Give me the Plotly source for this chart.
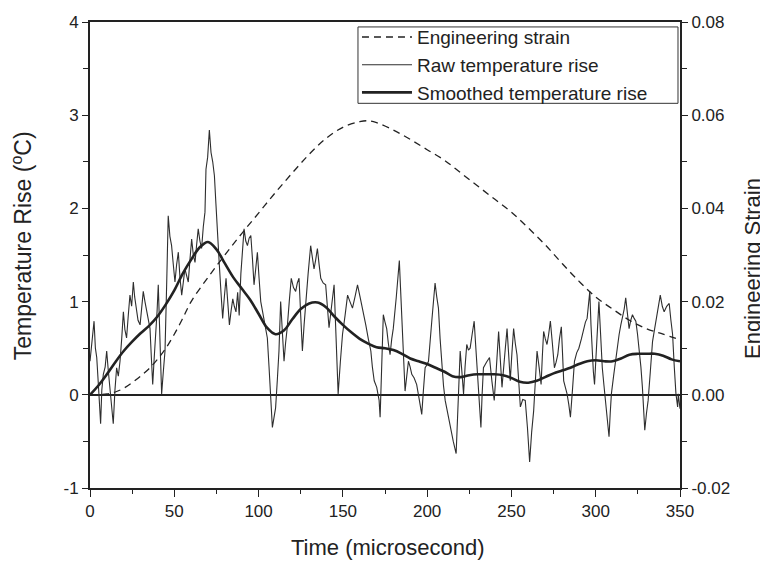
import plotly.graph_objects as go

# ---- Engineering strain (dashed, right axis) ----
strain_t = [0, 10, 15, 20, 25, 30, 35, 40, 45, 50, 55, 60, 70, 80, 90, 100, 110, 120, 130,
            140, 150, 160, 165, 170, 180, 190, 200, 210, 220, 230, 240, 250, 260, 270, 280,
            290, 300, 310, 320, 330, 340, 350]
strain_v = [0.0, 0.0002, 0.0006, 0.0014, 0.0026, 0.0040, 0.0056, 0.0076, 0.0100, 0.0130,
            0.0164, 0.0200, 0.0252, 0.0300, 0.0346, 0.0390, 0.0434, 0.0476, 0.0516, 0.0550,
            0.0574, 0.0586, 0.0588, 0.0584, 0.0568, 0.0548, 0.0526, 0.0504, 0.0476, 0.0448,
            0.0420, 0.0392, 0.0358, 0.0322, 0.0282, 0.0244, 0.0210, 0.0184, 0.0160, 0.0142,
            0.0130, 0.0118]

# ---- Smoothed temperature rise ----
smooth_t = [0, 5, 10, 15, 20, 25, 30, 35, 40, 45, 50, 55, 60, 65, 70, 75, 80, 85, 90, 95,
            100, 105, 110, 115, 120, 125, 130, 135, 140, 145, 150, 155, 160, 165, 170, 175,
            180, 185, 190, 195, 200, 205, 210, 215, 220, 225, 230, 235, 240, 245, 250, 255,
            260, 265, 270, 275, 280, 285, 290, 295, 300, 305, 310, 315, 320, 325, 330, 335,
            340, 345, 350]
smooth_v = [0.0, 0.10, 0.22, 0.35, 0.47, 0.57, 0.66, 0.74, 0.84, 0.97, 1.12, 1.30, 1.45,
            1.58, 1.64, 1.56, 1.41, 1.26, 1.14, 1.02, 0.87, 0.72, 0.65, 0.69, 0.81, 0.92,
            0.98, 0.99, 0.94, 0.84, 0.75, 0.67, 0.60, 0.55, 0.51, 0.50, 0.48, 0.44, 0.39,
            0.36, 0.33, 0.29, 0.25, 0.20, 0.19, 0.21, 0.22, 0.22, 0.22, 0.21, 0.18, 0.14,
            0.13, 0.15, 0.19, 0.23, 0.26, 0.29, 0.33, 0.36, 0.37, 0.36, 0.36, 0.39, 0.43,
            0.44, 0.44, 0.44, 0.42, 0.38, 0.36]

# ---- Raw temperature rise ----
raw_t = [0.0, 1.2, 2.4, 3.2, 4.0, 5.0, 6.3, 7.0, 7.9, 9.0, 9.9, 10.9, 11.9, 12.8, 13.8,
         14.8, 15.8, 16.8, 17.8, 18.8, 19.8, 20.7, 21.7, 22.7, 23.7, 24.7, 25.7, 26.5, 27.3,
         28.5, 29.7, 30.6, 31.6, 32.6, 33.6, 34.6, 35.6, 36.4, 37.2, 38.1, 39.1, 39.8, 40.5,
         41.5, 42.5, 43.5, 44.5, 45.5, 46.4, 47.4, 48.4, 49.4, 50.4, 51.4, 52.4, 53.4, 54.4,
         55.3, 56.3, 57.3, 58.3, 59.3, 60.3, 61.3, 62.3, 63.2, 64.2, 65.2, 66.2, 67.2, 68.2,
         68.8, 69.8, 70.8, 71.8, 72.8, 73.8, 74.7, 75.7, 76.7, 77.7, 78.7, 79.7, 80.7, 81.7,
         82.7, 83.7, 84.7, 85.6, 86.6, 87.6, 88.5, 89.5, 90.5, 91.4, 92.4, 93.4, 94.4, 95.4,
         96.4, 97.3, 98.3, 99.3, 100.3, 101.3, 102.3, 103.3, 104.2, 105.2, 106.2, 107.2,
         108.2, 109.1, 110.1, 111.1, 112.1, 113.1, 114.1, 115.1, 116.0, 117.0, 118.2, 119.4,
         120.7, 122.0, 123.0, 124.0, 125.0, 126.0, 127.0, 127.9, 129.4, 130.9, 131.9, 132.9,
         133.9, 134.9, 135.9, 136.9, 138.3, 139.8, 140.8, 141.8, 143.3, 144.8, 146.0, 147.2,
         148.5, 149.8, 151.3, 152.8, 154.2, 155.7, 157.2, 158.7, 160.2, 161.7, 162.6, 163.6,
         165.1, 166.1, 166.6, 167.5, 168.6, 170.1, 171.5, 172.1, 173.0, 174.0, 175.0, 176.0,
         177.0, 178.0, 179.0, 179.9, 181.7, 183.5, 184.2, 184.9, 185.9, 186.9, 187.9, 188.9,
         189.9, 190.9, 192.3, 193.8, 195.3, 196.8, 197.8, 198.8, 199.8, 200.8, 202.8, 204.7,
         205.7, 206.7, 207.7, 208.7, 209.7, 210.7, 212.2, 213.7, 215.5, 217.2, 218.4, 219.6,
         220.6, 221.6, 222.5, 223.5, 224.5, 225.5, 226.7, 227.9, 228.9, 229.9, 230.9, 231.9,
         232.6, 233.4, 235.2, 237.0, 238.4, 239.8, 241.1, 242.4, 243.4, 244.4, 245.9, 247.4,
         248.3, 249.3, 250.3, 251.3, 252.3, 253.3, 254.3, 255.3, 256.7, 258.2, 259.5, 260.8,
         262.0, 263.2, 264.2, 265.2, 266.4, 267.6, 268.3, 269.1, 270.1, 271.1, 272.1, 273.1,
         274.3, 275.5, 276.5, 277.5, 278.5, 279.6, 280.3, 281.0, 282.0, 283.0, 284.0, 285.0,
         286.2, 287.4, 288.7, 290.0, 291.5, 292.9, 293.9, 294.9, 295.7, 296.5, 297.2, 297.9,
         298.6, 299.3, 300.1, 300.9, 301.4, 301.9, 302.9, 303.9, 304.9, 305.9, 306.9, 307.9,
         308.6, 309.3, 310.6, 311.9, 312.9, 313.9, 314.9, 315.9, 316.9, 317.8, 318.8, 319.8,
         320.8, 321.8, 322.8, 323.8, 324.8, 325.8, 326.8, 327.7, 328.4, 329.1, 330.1, 331.1,
         332.4, 333.7, 334.7, 335.7, 337.0, 338.3, 339.5, 340.6, 342.1, 343.6, 344.6, 345.6,
         346.6, 347.6, 348.6, 349.0, 350.0]
raw_v = [0.36, 0.62, 0.79, 0.50, 0.40, 0.10, -0.31, 0.05, 0.22, 0.30, 0.47, 0.25, 0.08,
         -0.10, -0.31, 0.05, 0.29, 0.20, 0.36, 0.60, 0.89, 0.70, 0.61, 0.85, 1.07, 0.95,
         1.21, 1.05, 0.96, 0.80, 0.75, 0.95, 1.11, 1.00, 0.89, 0.80, 0.71, 0.40, 0.11, 0.40,
         0.65, 0.90, 1.18, 0.60, 0.01, 0.25, 0.47, 1.20, 1.92, 1.70, 1.60, 1.40, 1.21, 1.40,
         1.53, 1.25, 1.07, 1.20, 1.35, 1.28, 1.21, 1.45, 1.67, 1.50, 1.42, 1.60, 1.78, 1.65,
         1.57, 1.80, 1.96, 2.42, 2.55, 2.84, 2.60, 2.50, 2.35, 2.05, 1.78, 1.40, 1.10, 0.82,
         1.05, 1.25, 1.00, 0.75, 0.90, 1.03, 0.95, 0.89, 1.10, 0.85, 1.30, 1.55, 1.78, 1.65,
         1.60, 1.68, 1.71, 1.45, 1.18, 1.35, 1.53, 1.25, 1.00, 0.90, 0.79, 0.70, 0.61, 0.30,
         -0.06, -0.35, -0.25, -0.14, 0.15, 0.47, 1.00, 0.70, 0.36, 0.55, 0.72, 1.00, 1.25,
         1.15, 1.11, 1.20, 1.25, 0.85, 0.47, 0.75, 1.00, 1.30, 1.60, 1.45, 1.35, 1.45, 1.57,
         1.40, 1.25, 1.20, 1.18, 0.95, 0.72, 0.95, 1.18, 0.60, 0.01, 0.35, 0.65, 0.85, 1.07,
         1.00, 0.93, 1.05, 1.18, 1.05, 0.93, 0.85, 0.75, 0.60, 0.50, 0.47, 0.30, 0.15, 0.08,
         -0.06, -0.24, 0.30, 0.86, 0.78, 0.71, 0.55, 0.43, 0.60, 0.71, 1.05, 1.44, 1.15,
         0.86, 0.45, 0.04, 0.20, 0.36, 0.30, 0.22, 0.18, 0.11, -0.05, -0.21, 0.05, 0.29,
         0.32, 0.36, 0.80, 1.20, 1.05, 0.93, 0.60, 0.29, 0.10, -0.06, -0.20, -0.35, -0.50,
         -0.63, -0.10, 0.47, 0.25, 0.01, 0.30, 0.54, 0.48, 0.50, 0.65, 0.79, 0.50, 0.22,
         -0.05, -0.35, 0.00, 0.29, 0.35, 0.40, 0.15, -0.06, 0.30, 0.68, 0.38, 0.08, 0.40,
         0.71, 0.45, 0.15, 0.45, 0.71, 0.55, 0.43, 0.15, -0.13, -0.05, -0.06, -0.35, -0.72,
         -0.40, -0.17, 0.15, 0.47, 0.30, 0.11, 0.40, 0.68, 0.60, 0.54, 0.65, 0.79, 0.55,
         0.29, 0.35, 0.43, 0.60, 0.73, 0.45, 0.15, 0.08, 0.01, -0.10, -0.24, 0.05, 0.36,
         0.45, 0.50, 0.60, 0.71, 0.78, 0.82, 0.95, 1.11, 0.75, 0.40, 0.25, 0.11, 0.35, 0.57,
         0.80, 1.00, 0.65, 0.29, 0.10, -0.06, -0.25, -0.45, -0.20, 0.01, 0.20, 0.40, 0.52,
         0.65, 0.75, 0.82, 0.92, 1.04, 0.85, 0.71, 0.80, 0.86, 0.82, 0.79, 0.65, 0.50, 0.30,
         0.08, -0.15, -0.38, -0.20, -0.06, 0.25, 0.57, 0.68, 0.79, 0.90, 1.07, 0.95, 0.89,
         0.95, 0.98, 0.80, 0.65, 0.30, 0.01, -0.13, 0.01, -0.15]

x_ticks = [0, 50, 100, 150, 200, 250, 300, 350]
x_labels = ["0", "50", "100", "150", "200", "250", "300", "350"]
y_ticks = [-1, 0, 1, 2, 3, 4]
y_labels = ["-1", "0", "1", "2", "3", "4"]
y2_ticks = [-0.02, 0.00, 0.02, 0.04, 0.06, 0.08]
y2_labels = ["-0.02", "0.00", "0.02", "0.04", "0.06", "0.08"]

FONT = "Liberation Sans, Arial, sans-serif"
INK = "#222222"

fig = go.Figure()
fig.add_trace(go.Scatter(x=strain_t, y=strain_v, yaxis="y2", mode="lines",
                         name="Engineering strain", line_shape="spline",
                         line=dict(color=INK, width=1.3, dash="7px,5px")))
fig.add_trace(go.Scatter(x=raw_t, y=raw_v, mode="lines", name="Raw temperature rise",
                         line=dict(color="#2e2e2e", width=1.1)))
fig.add_trace(go.Scatter(x=smooth_t, y=smooth_v, mode="lines",
                         name="Smoothed temperature rise", line_shape="spline",
                         line=dict(color=INK, width=2.6)))

axis_common = dict(ticks="outside", tickwidth=1.3, tickcolor=INK, showline=True,
                   linecolor=INK, linewidth=2, showgrid=False, automargin=False,
                   tickfont=dict(family=FONT, size=17, color=INK))

fig.update_layout(
    width=760, height=556,
    margin=dict(l=82, r=88, t=10, b=76),
    paper_bgcolor="white", plot_bgcolor="white",
    font=dict(family=FONT, color=INK, size=18),
    showlegend=True,
    legend=dict(x=0.4525, y=1.0083, xanchor="left", yanchor="top",
                bgcolor="rgba(0,0,0,0)", borderwidth=0,
                font=dict(size=19, family=FONT, color=INK), tracegroupgap=0,
                itemwidth=50),
    xaxis=dict(range=[0, 350], tickvals=x_ticks, ticktext=x_labels, ticklen=7,
               minor=dict(dtick=25, tick0=0, ticks="outside", ticklen=4, tickcolor=INK),
               mirror=True, zeroline=False, **axis_common),
    yaxis=dict(range=[-1, 4], tickvals=y_ticks, ticktext=y_labels, ticklen=6,
               minor=dict(dtick=0.5, tick0=0, ticks="outside", ticklen=5, tickcolor=INK),
               mirror=True, zeroline=True, zerolinecolor=INK, zerolinewidth=1.5,
               **axis_common),
    yaxis2=dict(range=[-0.02, 0.08], tickvals=y2_ticks, ticktext=y2_labels,
                overlaying="y", side="right", ticklen=6,
                minor=dict(dtick=0.01, tick0=0, ticks="outside", ticklen=5, tickcolor=INK),
                zeroline=False, **axis_common),
    shapes=[dict(type="rect", xref="paper", yref="paper", x0=0.4542, x1=0.9966,
                 y0=0.8255, y1=0.9894, line=dict(color="#333333", width=1),
                 fillcolor="white", layer="above")],
    annotations=[
        dict(text="Time (microsecond)", xref="paper", yref="paper", x=0.5045, y=-0.1277,
             xanchor="center", yanchor="middle", showarrow=False,
             font=dict(size=22, family=FONT, color=INK)),
        dict(text="Temperature Rise (<sup>o</sup>C)", xref="paper", yref="paper",
             x=-0.1153, y=0.521, xanchor="center", yanchor="middle", textangle=-90,
             showarrow=False, font=dict(size=23, family=FONT, color=INK)),
        dict(text="Engineering Strain", xref="paper", yref="paper", x=1.1220, y=0.472,
             xanchor="center", yanchor="middle", textangle=-90, showarrow=False,
             font=dict(size=22, family=FONT, color=INK)),
    ],
)

fig.write_html("out.html")
